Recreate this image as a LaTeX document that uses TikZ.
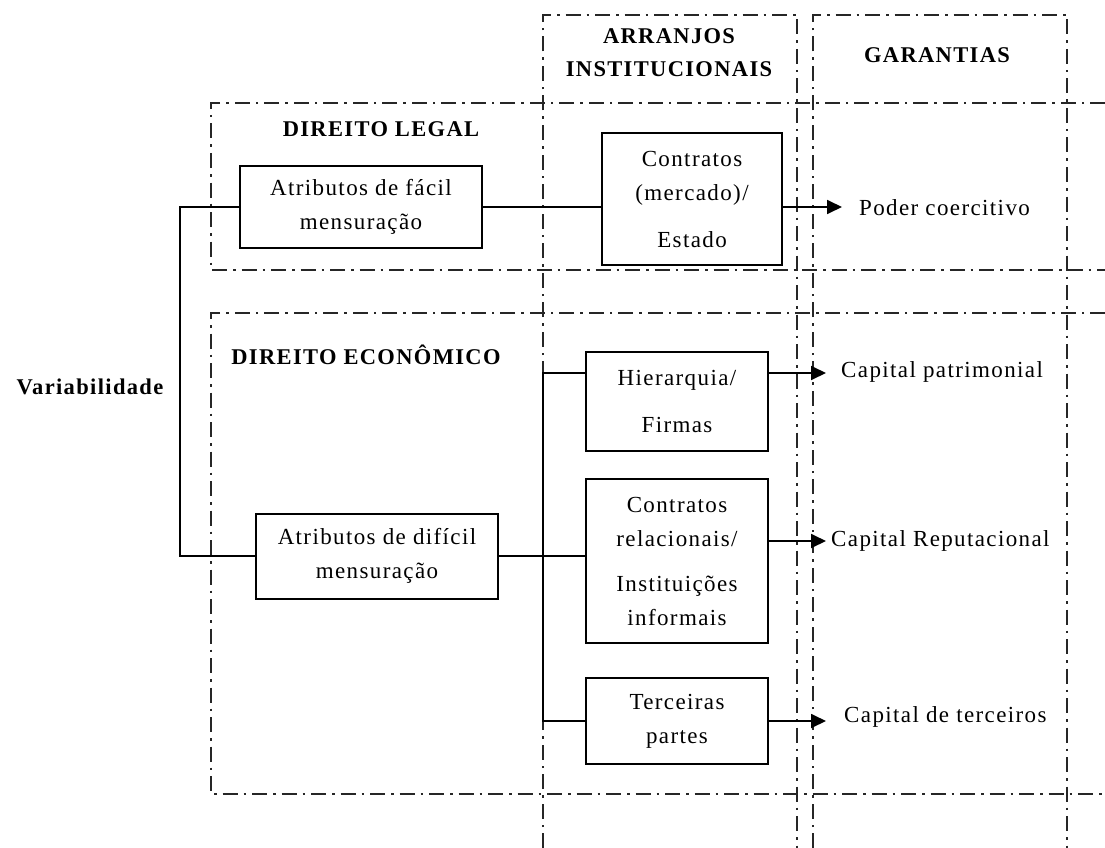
\documentclass[tikz,border=0pt]{standalone}
\usepackage{fontspec}
\setmainfont[LetterSpace=6]{Liberation Serif}
\usetikzlibrary{arrows.meta}
\begin{document}
\begin{tikzpicture}[x=1pt,y=-1pt,
  dd/.style={line width=1.5pt, draw=black!85, dash pattern=on 15pt off 6pt on 2.5pt off 6pt},
  box/.style={draw, line width=2pt, align=center, inner sep=0pt, font=\fontsize{23}{34}\selectfont},
  lbl/.style={font=\fontsize{23}{34}\selectfont, inner sep=0pt},
  hd/.style={font=\fontsize{22.5}{33}\selectfont\bfseries, align=center, inner sep=0pt},
  conn/.style={line width=1.8pt},
  arrw/.style={conn, -{Triangle[length=15pt,width=14pt]}}]
\useasboundingbox (0,0) rectangle (1105,848);
% dash-dot frames
\draw[dd] (543,848) -- (543,15) -- (797,15) -- (797,848);
\draw[dd] (813,848) -- (813,15) -- (1067,15) -- (1067,848);
\draw[dd] (1105,103) -- (211,103) -- (211,270) -- (1105,270);
\draw[dd] (1105,313) -- (211,313) -- (211,794) -- (1105,794);
% headings
\node[hd] (harr) at (669,53) {ARRANJOS\\INSTITUCIONAIS};
\node[hd] (hgar) at (937,55) {GARANTIAS};
\node[hd] (hdl) at (381,129) {DIREITO LEGAL};
\node[hd] (hde) at (366,355) {DIREITO ECONÔMICO};
\node[hd] (hvar) at (90,387) {Variabilidade};
% boxes
\node[box, minimum width=242pt, minimum height=82pt] (fac) at (361,207) {Atributos de fácil\\mensuração};
\node[box, minimum width=180pt, minimum height=132pt] (cm) at (692,199) {Contratos\\(mercado)/\\[13pt]Estado};
\node[box, minimum width=182pt, minimum height=99pt] (hier) at (677,401.5) {Hierarquia/\\[13pt]Firmas};
\node[box, minimum width=182pt, minimum height=164pt] (rel) at (677,561) {Contratos\\relacionais/\\[11pt]Instituições\\informais};
\node[box, minimum width=182pt, minimum height=86pt] (terc) at (677,721) {Terceiras\\partes};
\node[box, minimum width=242pt, minimum height=85pt] (dif) at (377,556) {Atributos de difícil\\mensuração};
% guarantees
\node[lbl, anchor=west] (poder) at (859,208) {Poder coercitivo};
\node[lbl, anchor=west] (cpat) at (841,372) {Capital patrimonial};
\node[lbl, anchor=west] (crep) at (831,541) {Capital Reputacional};
\node[lbl, anchor=west] (cter) at (844,717) {Capital de terceiros};
% connectors
\coordinate (vx) at (180,0);
\coordinate (pt) at (842,0);
\coordinate (tip) at (826,0);
\coordinate (bx) at (543,373);
\coordinate (ry) at (0,541);
\draw[conn] (fac.west) -- (fac.west -| vx) -- (dif.west -| vx) -- (dif.west);
\draw[conn] (fac.east) -- (fac.east -| cm.west);
\draw[arrw] (cm.east |- fac.east) -- (fac.east -| pt);
\draw[conn] (dif.east) -- (dif.east -| rel.west);
\draw[conn] (hier.west |- bx) -- (bx) -- (bx |- terc.west) -- (terc.west);
\draw[arrw] (hier.east |- bx) -- (bx -| tip);
\draw[arrw] (rel.east |- ry) -- (tip |- ry);
\draw[arrw] (terc.east) -- (terc.east -| tip);
\end{tikzpicture}
\end{document}
